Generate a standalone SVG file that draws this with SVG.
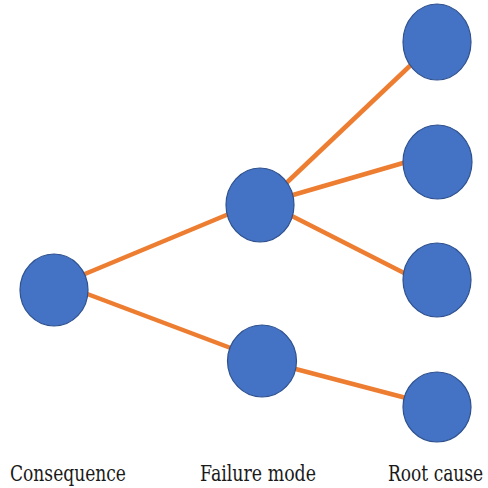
<svg xmlns="http://www.w3.org/2000/svg" width="488" height="488" viewBox="0 0 488 488">
<style>
.edge{stroke:#ED7D31;stroke-width:4.5;fill:none;stroke-linecap:butt}
.node{fill:#4472C4;stroke:#2F528F;stroke-width:1.2}
.lbl{font-family:'DejaVu Serif',serif;font-size:22px;fill:#1a1a1a}
</style>
<rect width="488" height="488" fill="#ffffff"/>
<g id="connectors">
<line class="edge" x1="80" y1="276" x2="236" y2="211"/>
<line class="edge" x1="82" y1="292" x2="236" y2="350"/>
<line class="edge" x1="280" y1="189" x2="414" y2="62"/>
<line class="edge" x1="286" y1="197" x2="410" y2="161"/>
<line class="edge" x1="286" y1="213" x2="410" y2="276"/>
<line class="edge" x1="288" y1="367" x2="410" y2="399"/>
</g>
<g id="consequence"><ellipse class="node" cx="54" cy="290" rx="34" ry="36"/></g>
<g id="failure1"><ellipse class="node" cx="260" cy="205" rx="34" ry="37"/></g>
<g id="failure2"><ellipse class="node" cx="262" cy="361" rx="34.5" ry="36"/></g>
<g id="root1"><ellipse class="node" cx="437" cy="42" rx="34" ry="38"/></g>
<g id="root2"><ellipse class="node" cx="437.5" cy="162" rx="34.5" ry="37"/></g>
<g id="root3"><ellipse class="node" cx="437" cy="280" rx="34" ry="37"/></g>
<g id="root4"><ellipse class="node" cx="437" cy="407" rx="34" ry="35"/></g>
<g id="labels">
<text class="lbl" transform="translate(10,481) scale(0.8,1)" textLength="145" lengthAdjust="spacingAndGlyphs">Consequence</text>
<text class="lbl" transform="translate(200,481) scale(0.8,1)" textLength="145" lengthAdjust="spacingAndGlyphs">Failure mode</text>
<text class="lbl" transform="translate(388,481) scale(0.8,1)" textLength="119" lengthAdjust="spacingAndGlyphs">Root cause</text>
</g>
</svg>
